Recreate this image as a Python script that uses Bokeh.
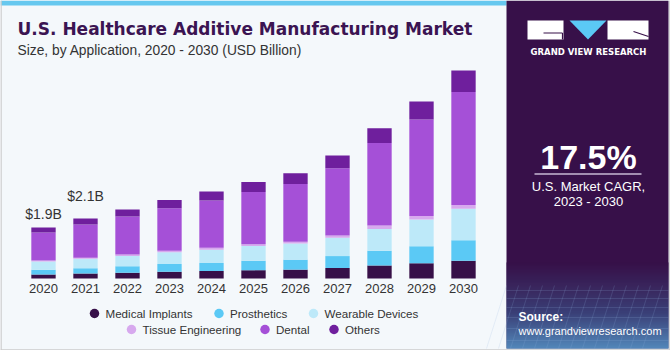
from bokeh.plotting import figure
from bokeh.models import ColumnDataSource, Range1d
from bokeh.core.properties import value
from bokeh.embed import file_html
from bokeh.resources import INLINE

# ---------------- data (USD billion) ----------------
years = [2020, 2021, 2022, 2023, 2024, 2025, 2026, 2027, 2028, 2029, 2030]
year_labels = [str(y) for y in years]
medical_implants   = [0.14, 0.18, 0.21, 0.24, 0.27, 0.30, 0.32, 0.38, 0.47, 0.55, 0.64]
prosthetics        = [0.18, 0.19, 0.23, 0.28, 0.29, 0.34, 0.36, 0.43, 0.53, 0.61, 0.74]
wearable_devices   = [0.29, 0.34, 0.37, 0.43, 0.48, 0.53, 0.58, 0.66, 0.79, 0.97, 1.14]
tissue_engineering = [0.04, 0.04, 0.06, 0.05, 0.07, 0.07, 0.07, 0.08, 0.12, 0.13, 0.13]
dental             = [1.01, 1.20, 1.37, 1.54, 1.71, 1.88, 2.08, 2.43, 2.98, 3.48, 4.08]
others             = [0.18, 0.22, 0.25, 0.29, 0.32, 0.36, 0.39, 0.46, 0.53, 0.65, 0.78]

series_names = ["Medical Implants", "Prosthetics", "Wearable Devices",
                "Tissue Engineering", "Dental", "Others"]
series_keys = ["mi", "pr", "wd", "te", "de", "ot"]
series_colors = ["#371048", "#5BC9F5", "#BDE9F9", "#D7A9EE", "#A550D7", "#6F1F9D"]

value_label_years = [2020, 2021]
value_label_texts = ["$1.9B", "$2.1B"]

title_text = "U.S. Healthcare Additive Manufacturing Market"
subtitle_text = "Size, by Application, 2020 - 2030 (USD Billion)"
cagr_text = "17.5%"
cagr_caption = ["U.S. Market CAGR,", "2023 - 2030"]

# ---------------- layout constants ----------------
W, H = 670, 350
PX_PER_B = 27.7
BASE_Y = 278          # pixel row of bar baseline (from top)
X0_PX, STEP_PX = 43, 42  # centre of first bar, spacing

FONT = value("Liberation Sans")

source = ColumnDataSource(dict(year=years, mi=medical_implants, pr=prosthetics,
                               wd=wearable_devices, te=tissue_engineering,
                               de=dental, ot=others))

x_start = years[0] - X0_PX / STEP_PX
y_start = -(H - BASE_Y) / PX_PER_B
p = figure(width=W, height=H, output_backend="svg", toolbar_location=None,
           x_range=Range1d(x_start, x_start + W / STEP_PX),
           y_range=Range1d(y_start, y_start + H / PX_PER_B),
           x_axis_location=None, y_axis_location=None,
           min_border=0, min_border_left=0, min_border_right=0,
           min_border_top=0, min_border_bottom=0,
           outline_line_color=None,
           background_fill_color="#F4F8FB", border_fill_color="#F4F8FB")
for g in p.grid:
    g.visible = False

p.extra_x_ranges = {"px": Range1d(0, W)}
p.extra_y_ranges = {"px": Range1d(H, 0)}
PX = dict(x_range_name="px", y_range_name="px")

# top blue strip on the left panel
p.quad(left=0, right=506, top=0, bottom=5, fill_color="#66C8EF", line_color=None, **PX)

# ---------------- bars ----------------
p.vbar_stack(series_keys, x="year", width=0.58, source=source,
             fill_color=series_colors, line_color=None)

# year labels under bars
p.text(x=years, y=[288] * len(years), text=year_labels, x_range_name="default",
       y_range_name="px", text_font=FONT, text_font_size="13px",
       text_color="#333333", text_align="center", text_baseline="middle")

# value labels
p.text(x=value_label_years, y=[213, 195.5], text=value_label_texts,
       y_range_name="px", text_font=FONT, text_font_size="14px",
       text_color="#333333", text_align="center", text_baseline="middle")

# titles
p.text(x=[17], y=[28], text=[title_text], text_font=value("DejaVu Sans"),
       text_font_size="17px", text_font_style="bold", text_color="#3B1452",
       text_baseline="middle", **PX)
p.text(x=[17], y=[50], text=[subtitle_text], text_font=FONT, text_font_size="13.8px",
       text_color="#333333", text_baseline="middle", **PX)

# legend
leg_x = [94, 218.5, 313, 131, 264.5, 333.5]
leg_y = [313, 313, 313, 329, 329, 329]
p.scatter(x=leg_x, y=leg_y, marker="circle", size=9.5, fill_color=series_colors,
          line_color=None, **PX)
p.text(x=[x + 11 for x in leg_x], y=leg_y, text=series_names, text_font=FONT,
       text_font_size="11.6px", text_color="#333333", text_baseline="middle", **PX)

# ---------------- right panel ----------------
p.quad(left=506, right=668, top=0, bottom=348, fill_color="#371049", line_color=None, **PX)

def mix(c1, c2, t):
    a = [int(c1[i:i + 2], 16) for i in (1, 3, 5)]
    b = [int(c2[i:i + 2], 16) for i in (1, 3, 5)]
    return "#" + "".join("%02x" % round(a[k] + (b[k] - a[k]) * t) for k in range(3))

stops = [(262, "#371049"), (285, "#3A2C63"), (312, "#3B4F86"), (348, "#5DAFE0")]
tops, bots, cols = [], [], []
for (y1, c1), (y2, c2) in zip(stops[:-1], stops[1:]):
    for yy in range(y1, y2):
        tops.append(yy); bots.append(yy + 1); cols.append(mix(c1, c2, (yy - y1) / (y2 - y1)))
p.quad(left=506, right=668, top=tops, bottom=bots, fill_color=cols, line_color=None, **PX)

# faint grid texture at bottom
gx0 = [506 + 12 * i for i in range(14)]
p.segment(x0=gx0, y0=[285] * len(gx0), x1=[x - 20 for x in gx0], y1=[348] * len(gx0),
          line_color="#8FB4E0", line_alpha=0.18, line_width=1, **PX)
gy = [290, 298, 307, 317, 328, 340]
p.segment(x0=[506] * len(gy), y0=gy, x1=[668] * len(gy), y1=gy,
          line_color="#8FB4E0", line_alpha=0.18, line_width=1, **PX)

# logo
p.quad(left=[527, 607], right=[563, 648], top=[20, 20], bottom=[39, 39],
       fill_color="white", line_color=None, **PX)
p.patch(x=[569, 606, 587.5], y=[20, 20, 39], fill_color="#5BC9F5", line_color=None, **PX)
p.segment(x0=[543, 562, 633], y0=[32.5, 32.5, 31], x1=[562, 562, 648], y1=[32.5, 39, 36],
          line_color="#371049", line_width=1.2, **PX)
p.text(x=[588], y=[51], text=["GRAND VIEW RESEARCH"], text_font=value("DejaVu Sans"),
       text_font_size="8.5px", text_font_style="bold", text_color="white",
       text_align="center", text_baseline="middle", **PX)

# CAGR
p.text(x=[588], y=[156], text=[cagr_text], text_font=FONT, text_font_size="34px",
       text_font_style="bold", text_color="white", text_align="center",
       text_baseline="middle", **PX)
p.segment(x0=[534], y0=[173.5], x1=[641], y1=[173.5], line_color="#C8B8D4",
          line_width=1.5, **PX)
p.text(x=[588, 588], y=[185.5, 201], text=cagr_caption, text_font=FONT,
       text_font_size="13px", text_color="white", text_align="center",
       text_baseline="middle", **PX)

# source
p.text(x=[518], y=[316], text=["Source:"], text_font=FONT, text_font_size="12px",
       text_font_style="bold", text_color="white", text_baseline="middle", **PX)
p.text(x=[518], y=[330], text=["www.grandviewresearch.com"], text_font=FONT,
       text_font_size="11px", text_color="white", text_baseline="middle", **PX)

# outer border
p.segment(x0=[0.5, 0, 669.5], y0=[0, 349.5, 0], x1=[0.5, 670, 669.5], y1=[350, 349.5, 350],
          line_color="#CCCCCC", line_width=1.5, **PX)

open("out.html", "w").write(file_html(p, INLINE))
